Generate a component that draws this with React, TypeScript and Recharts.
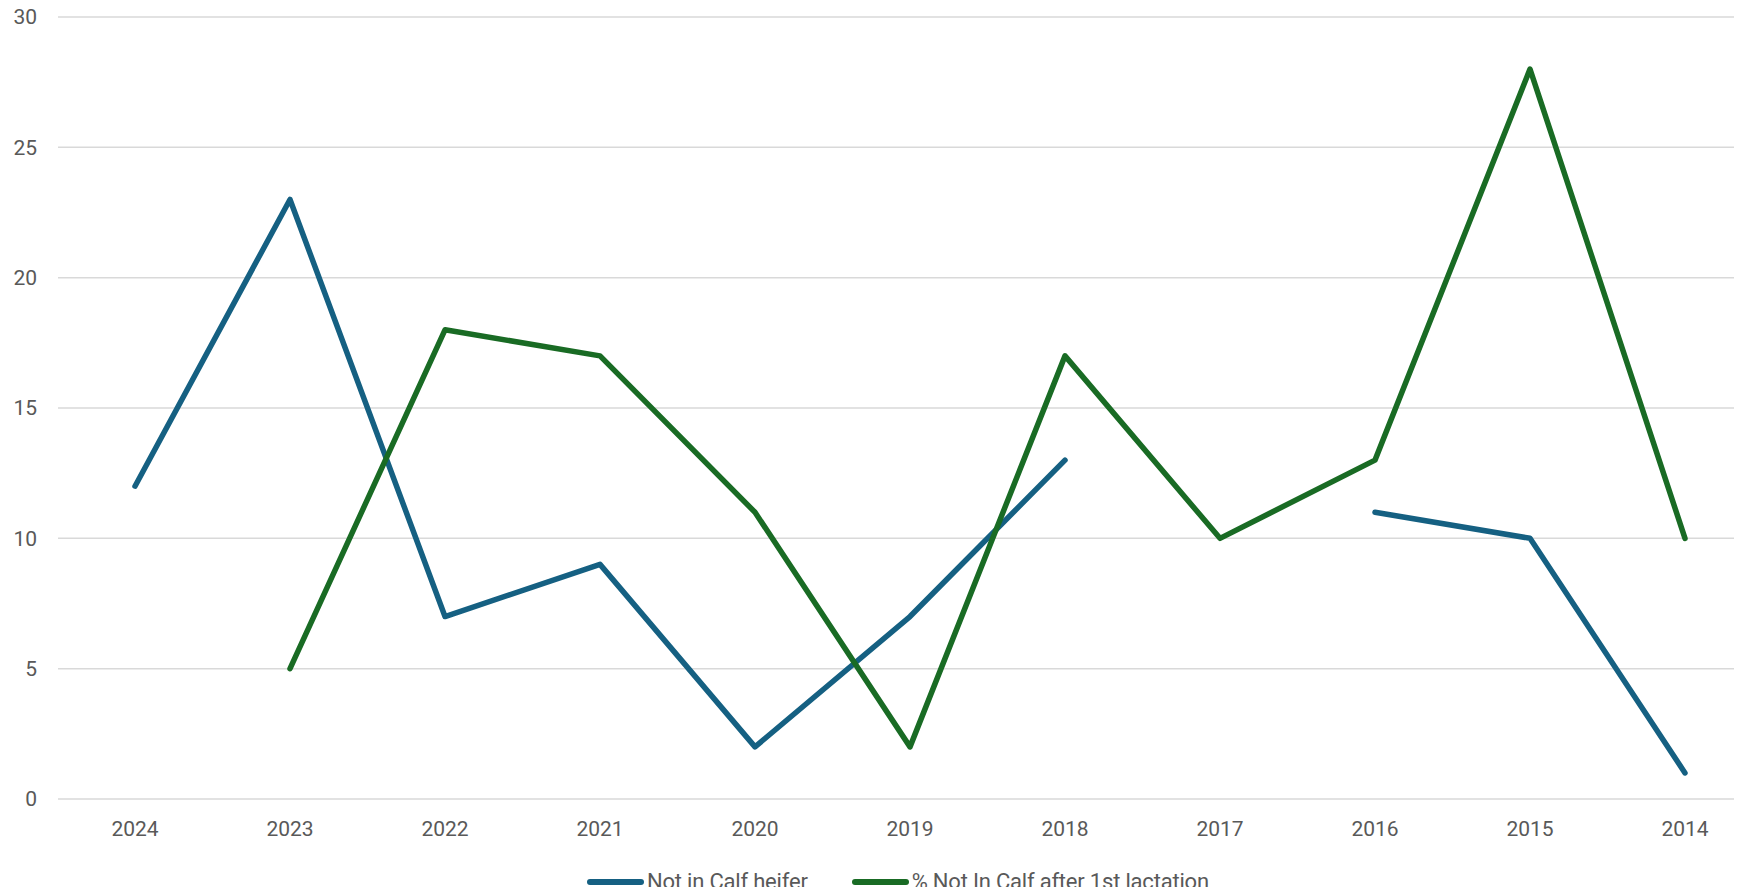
import React from "react";
import { LineChart, Line, XAxis, YAxis, CartesianGrid, Legend } from "recharts";

const years = ["2024", "2023", "2022", "2021", "2020", "2019", "2018", "2017", "2016", "2015", "2014"];
const heifer = [12, 23, 7, 9, 2, 7, 13, null, 11, 10, 1];
const firstLactation = [null, 5, 18, 17, 11, 2, 17, 10, 13, 28, 10];
const yTicks = [0, 5, 10, 15, 20, 25, 30];

const BLUE = "#156082";
const GREEN = "#196B24";
const FONT = "Roboto, sans-serif";

const data = years.map((y, i) => ({
  year: y,
  heifer: heifer[i],
  lact: firstLactation[i],
}));

function LegendBox() {
  const items = [
    { label: "Not in Calf heifer", color: BLUE },
    { label: "% Not In Calf after 1st lactation", color: GREEN },
  ];
  return (
    <div style={{ display: "flex", alignItems: "center", fontFamily: FONT, fontSize: 22, color: "#595959", lineHeight: "26px" }}>
      {items.map((it) => (
        <div key={it.label} style={{ display: "flex", alignItems: "center", marginRight: 44 }}>
          <span
            style={{
              display: "inline-block",
              width: 57,
              height: 6,
              borderRadius: 3,
              background: it.color,
              marginRight: 3,
            }}
          />
          <span style={{ whiteSpace: "nowrap", letterSpacing: -0.2 }}>{it.label}</span>
        </div>
      ))}
    </div>
  );
}

export default function App() {
  return (
    <div style={{ margin: -8, width: 1742, height: 895, overflow: "hidden", position: "relative", background: "#fff" }}>
      <LineChart width={1780} height={895} data={data} margin={{ top: 17, right: 18, left: 8, bottom: 46 }}>
        <CartesianGrid vertical={false} stroke="#d9d9d9" strokeWidth={1.5} />
        <XAxis
          dataKey="year"
          axisLine={false}
          tickLine={false}
          height={50}
          tickMargin={16}
          padding={{ left: 77, right: 77 }}
          tick={{ fill: "#595959", fontSize: 21, fontFamily: FONT }}
          interval={0}
        />
        <YAxis
          domain={[0, 30]}
          ticks={yTicks}
          width={50}
          axisLine={false}
          tickLine={false}
          tickMargin={15}
          tick={{ fill: "#595959", fontSize: 21, fontFamily: FONT }}
        />
        <Legend
          verticalAlign="middle"
          layout="horizontal"
          content={() => <LegendBox />}
          wrapperStyle={{ top: 869, left: 587, width: "auto" }}
        />
        <Line
          type="linear"
          dataKey="heifer"
          name="Not in Calf heifer"
          stroke={BLUE}
          strokeWidth={5.5}
          strokeLinecap="round"
          strokeLinejoin="round"
          dot={false}
          activeDot={false}
          isAnimationActive={false}
        />
        <Line
          type="linear"
          dataKey="lact"
          name="% Not In Calf after 1st lactation"
          stroke={GREEN}
          strokeWidth={5.5}
          strokeLinecap="round"
          strokeLinejoin="round"
          dot={false}
          activeDot={false}
          isAnimationActive={false}
        />
      </LineChart>
    </div>
  );
}
